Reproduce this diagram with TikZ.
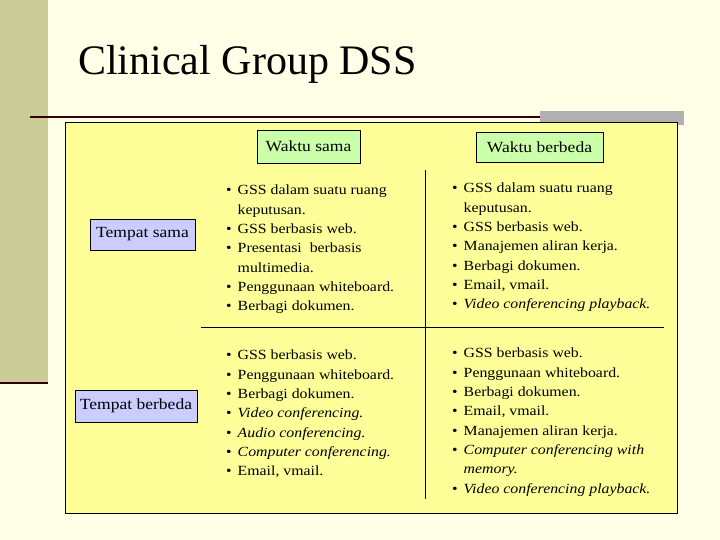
\documentclass[tikz,border=0pt]{standalone}
\usepackage{fontspec}
\setmainfont{Liberation Serif}
\newfontfamily\wide[FakeStretch=1.13]{Liberation Serif}
\definecolor{bg}{HTML}{FFFFE8}
\definecolor{olive}{HTML}{CCCC99}
\definecolor{cell}{HTML}{FFFF99}
\definecolor{grn}{HTML}{CCFFAA}
\definecolor{lav}{HTML}{CCCCFF}
\definecolor{shadow}{HTML}{B0B0B0}
\definecolor{dred}{HTML}{330000}
\newcommand{\bl}{\textbullet}
\begin{document}
\begin{tikzpicture}[x=1pt,y=1pt,
  hdr/.style={draw=black,fill=grn,inner sep=0pt,font=\wide\fontsize{15.5}{17}\selectfont},
  rowlbl/.style={draw=black,fill=lav,inner sep=0pt,font=\wide\fontsize{15.5}{17}\selectfont},
  cellt/.style={anchor=base west,inner sep=0pt,font=\wide\fontsize{14}{19.3}\selectfont}]
\useasboundingbox (0,0) rectangle (720,540);
\fill[bg] (0,0) rectangle (720,540);
\fill[olive] (0,540) rectangle (48,157);
\draw[dred,line width=2pt] (0,157) -- (48,157);
\node[anchor=base west,inner sep=0pt,font=\fontsize{42}{44}\selectfont] (title) at (78,465) {Clinical Group DSS};
\fill[shadow] (540,429) rectangle (684,415);
\draw[dred,line width=1.5pt] (30,423) -- (540,423);
\node[draw=black,fill=cell,minimum width=612,minimum height=391,inner sep=0pt,anchor=north west] (tbl) at (65,418) {};
\coordinate (vt) at (425,370);
\coordinate (vb) at (425,41);
\coordinate (hl) at (201,213);
\coordinate (hr) at (664,213);
\draw (vt) -- (vb);
\draw (hl) -- (hr);
\node[hdr,minimum width=103,minimum height=33] (ws) at (308.5,393.5) {Waktu sama};
\node[hdr,minimum width=127,minimum height=30] (wb) at (539.5,393) {Waktu berbeda};
\node[rowlbl,minimum width=105,minimum height=31] (ts) at (142.5,305.5) {Tempat sama};
\node[rowlbl,minimum width=122,minimum height=32] (tb) at (136,134) {Tempat berbeda};
\node[cellt] (c11) at (226,345) {\begin{tabular}[t]{@{}l@{\hspace{6pt}}l@{}}
\bl & GSS dalam suatu ruang\\ & keputusan.\\ \bl & GSS berbasis web.\\ \bl & Presentasi\ \ berbasis\\ & multimedia.\\ \bl & Penggunaan whiteboard.\\ \bl & Berbagi dokumen.\end{tabular}};
\node[cellt] (c12) at (452,347) {\begin{tabular}[t]{@{}l@{\hspace{6pt}}l@{}}
\bl & GSS dalam suatu ruang\\ & keputusan.\\ \bl & GSS berbasis web.\\ \bl & Manajemen aliran kerja.\\ \bl & Berbagi dokumen.\\ \bl & Email, vmail.\\ \bl & \textit{Video conferencing playback.}\end{tabular}};
\node[cellt] (c21) at (226,180) {\begin{tabular}[t]{@{}l@{\hspace{6pt}}l@{}}
\bl & GSS berbasis web.\\ \bl & Penggunaan whiteboard.\\ \bl & Berbagi dokumen.\\ \bl & \textit{Video conferencing.}\\ \bl & \textit{Audio conferencing.}\\ \bl & \textit{Computer conferencing.}\\ \bl & Email, vmail.\end{tabular}};
\node[cellt] (c22) at (452,182) {\begin{tabular}[t]{@{}l@{\hspace{6pt}}l@{}}
\bl & GSS berbasis web.\\ \bl & Penggunaan whiteboard.\\ \bl & Berbagi dokumen.\\ \bl & Email, vmail.\\ \bl & Manajemen aliran kerja.\\ \bl & \textit{Computer conferencing with}\\ & \textit{memory.}\\ \bl & \textit{Video conferencing playback.}\end{tabular}};
\end{tikzpicture}
\end{document}
